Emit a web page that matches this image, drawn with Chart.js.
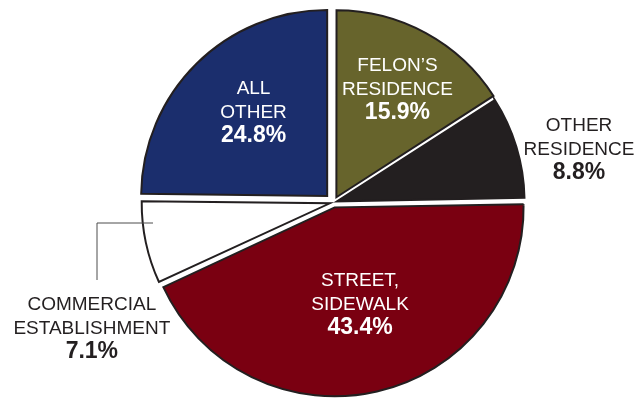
<!DOCTYPE html>
<html>
<head>
<meta charset="utf-8">
<script src="https://cdn.jsdelivr.net/npm/chart.js@4"></script>
<style>
  html, body { margin: 0; padding: 0; background: #ffffff; }
  #wrap { width: 636px; height: 400px; }
</style>
</head>
<body>
<div id="wrap"><canvas id="myChart" width="636" height="400"></canvas></div>
<script>
// data, clockwise from 12 o'clock
const categories = ["FELON\u2019S RESIDENCE", "OTHER RESIDENCE", "STREET, SIDEWALK", "COMMERCIAL ESTABLISHMENT", "ALL OTHER"];
const shares = [15.9, 8.8, 43.4, 7.1, 24.8];
const labelLines = [
    ["FELON\u2019S", "RESIDENCE"],
    ["OTHER", "RESIDENCE"],
    ["STREET,", "SIDEWALK"],
    ["COMMERCIAL", "ESTABLISHMENT"],
    ["ALL", "OTHER"]
];

const SLICE_COLORS = ['#67642c', '#231f20', '#7a0011', '#ffffff', '#1b2e6d'];
const SLICE_OFFSETS = [24, 14, 20, 15, 36];
const TEXT_COLORS = ['#ffffff', '#231f20', '#ffffff', '#231f20', '#ffffff'];
// label block centre: angle (deg clockwise from top) and distance (x radius)
const LABEL_SPOTS = [
    { a: 29.6, r: 0.696 },
    { a: 77.9, r: 1.35 },
    { a: 165.4, r: 0.567 },
    { a: 242.4, r: 1.466 },
    { a: 318.2, r: 0.645 }
];

const pieLabels = {
    id: 'pieLabels',
    afterDatasetsDraw(chart) {
        const ctx = chart.ctx;
        const arc = chart.getDatasetMeta(0).data[0];
        const cx = arc.x, cy = arc.y, R = arc.outerRadius;

        // leader line for the commercial slice
        ctx.save();
        ctx.strokeStyle = '#4d4d4d';
        ctx.lineWidth = 1;
        ctx.beginPath();
        ctx.moveTo(cx - 236.5, cy + 77.5);
        ctx.lineTo(cx - 236.5, cy + 20.5);
        ctx.lineTo(cx - 180.5, cy + 20.5);
        ctx.stroke();
        ctx.restore();

        ctx.save();
        ctx.textAlign = 'center';
        ctx.textBaseline = 'middle';
        shares.forEach((v, i) => {
            const spot = LABEL_SPOTS[i];
            const t = -Math.PI / 2 + spot.a * Math.PI / 180;
            const x = cx + Math.cos(t) * spot.r * R;
            const y = cy + Math.sin(t) * spot.r * R;
            ctx.fillStyle = TEXT_COLORS[i];
            ctx.font = '19px "Liberation Sans", Arial, sans-serif';
            ctx.fillText(labelLines[i][0], x, y - 24);
            ctx.fillText(labelLines[i][1], x, y);
            ctx.font = 'bold 23px "Liberation Sans", Arial, sans-serif';
            ctx.fillText(v.toFixed(1) + '%', x, y + 23);
        });
        ctx.restore();
    }
};

function drawChart() {
    const ctx = document.getElementById('myChart').getContext('2d');
    new Chart(ctx, {
        type: 'pie',
        data: {
            labels: categories,
            datasets: [{
                data: shares,
                backgroundColor: SLICE_COLORS,
                borderColor: '#231f20',
                borderWidth: 2,
                borderJoinStyle: 'miter',
                offset: SLICE_OFFSETS,
                hoverOffset: 0
            }]
        },
        options: {
            responsive: false,
            animation: false,
            events: [],
            radius: 186,
            layout: {
                padding: { left: 31, right: 0, top: 5, bottom: 0 }
            },
            plugins: {
                legend: { display: false },
                tooltip: { enabled: false }
            }
        },
        plugins: [pieLabels]
    });
}

drawChart();
</script>
</body>
</html>
